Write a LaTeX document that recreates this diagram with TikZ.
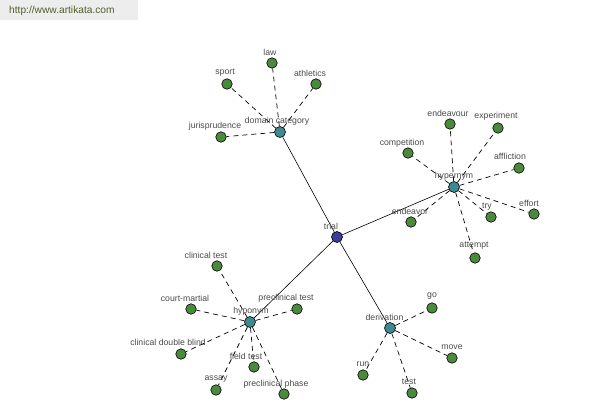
\documentclass[tikz,border=0pt]{standalone}
\usepackage{fontspec}
\setmainfont{Liberation Sans}
\definecolor{leafc}{HTML}{4A8A3C}
\definecolor{hubc}{HTML}{3D8B8E}
\definecolor{rootc}{HTML}{3C3C9A}
\definecolor{txtc}{HTML}{4A4A4A}
\definecolor{bannerbg}{HTML}{EDEDED}
\definecolor{bannertxt}{HTML}{4F5E2A}
\begin{document}
\begin{tikzpicture}[x=1pt,y=-1pt,
  leaf/.style={circle,draw=black,line width=0.6pt,fill=leafc,minimum size=10.5pt,inner sep=0pt},
  hub/.style={circle,draw=black,line width=0.6pt,fill=hubc,minimum size=11pt,inner sep=0pt},
  root/.style={circle,draw=black,line width=0.6pt,fill=rootc,minimum size=11pt,inner sep=0pt},
  lbl/.style={text=txtc,font=\fontsize{8.7}{9}\selectfont,inner sep=0pt},
  spoke/.style={draw=black,line width=0.7pt,dash pattern=on 5pt off 4pt},
  trunk/.style={draw=black,line width=0.6pt}]
\useasboundingbox (0,0) rectangle (600,400);
\fill[bannerbg] (0,0) rectangle (138,20);
\node[text=bannertxt,font=\fontsize{10.2}{11}\selectfont,anchor=west,inner sep=0pt] (banner) at (9,11) {http://www.artikata.com};

% nodes
\node[root] (trial) at (337,237) {};
\node[hub] (dom) at (280,132) {};
\node[hub] (hyper) at (454,187) {};
\node[hub] (hypo) at (250,322) {};
\node[hub] (deriv) at (390,328) {};

\node[leaf] (law) at (272,63) {};
\node[leaf] (sport) at (227,84) {};
\node[leaf] (athletics) at (316,84) {};
\node[leaf] (juris) at (221,137) {};

\node[leaf] (endeavour) at (450,124) {};
\node[leaf] (experiment) at (498,128) {};
\node[leaf] (competition) at (408,153) {};
\node[leaf] (affliction) at (519,168) {};
\node[leaf] (effort) at (534,214) {};
\node[leaf] (try) at (491,217) {};
\node[leaf] (endeavor) at (411,222) {};
\node[leaf] (attempt) at (475,258) {};

\node[leaf] (clintest) at (217,266) {};
\node[leaf] (court) at (191,309) {};
\node[leaf] (pretest) at (297,309) {};
\node[leaf] (cdb) at (181,354) {};
\node[leaf] (field) at (254,367) {};
\node[leaf] (assay) at (216,390) {};
\node[leaf] (prephase) at (284,394) {};

\node[leaf] (go) at (432,308) {};
\node[leaf] (move) at (452,358) {};
\node[leaf] (run) at (363,375) {};
\node[leaf] (test) at (412,393) {};

% connectors
\path[trunk] (trial) -- (dom);
\path[trunk] (trial) -- (hyper);
\path[trunk] (trial) -- (hypo);
\path[trunk] (trial) -- (deriv);
\foreach \l in {law,sport,athletics,juris} \path[spoke] (dom) -- (\l);
\foreach \l in {endeavour,experiment,competition,affliction,effort,try,endeavor,attempt} \path[spoke] (hyper) -- (\l);
\foreach \l in {clintest,court,pretest,cdb,field,assay,prephase} \path[spoke] (hypo) -- (\l);
\foreach \l in {go,move,run,test} \path[spoke] (deriv) -- (\l);

% labels
\node[lbl] (Ltrial) at (331,226) {trial};
\node[lbl] (Ldom) at (277,121) {domain category};
\node[lbl] (Lhyper) at (454,176) {hypernym};
\node[lbl] (Lhypo) at (251,311) {hyponym};
\node[lbl] (Lderiv) at (384.5,317) {derivation};

\node[lbl] (Llaw) at (270,52) {law};
\node[lbl] (Lsport) at (225,73) {sport};
\node[lbl] (Lathletics) at (310,73) {athletics};
\node[lbl] (Ljuris) at (215,126) {jurisprudence};

\node[lbl] (Lendeavour) at (448,113) {endeavour};
\node[lbl] (Lexperiment) at (496,116) {experiment};
\node[lbl] (Lcompetition) at (402,143) {competition};
\node[lbl] (Laffliction) at (510,156) {affliction};
\node[lbl] (Leffort) at (529,203) {effort};
\node[lbl] (Ltry) at (487,207) {try};
\node[lbl] (Lendeavor) at (410,211) {endeavor};
\node[lbl] (Lattempt) at (474,246) {attempt};

\node[lbl] (Lclintest) at (206,255) {clinical test};
\node[lbl] (Lcourt) at (185,298) {court-martial};
\node[lbl] (Lpretest) at (286,298) {preclinical test};
\node[lbl] (Lcdb) at (168,342) {clinical double blind};
\node[lbl] (Lfield) at (246,356) {field test};
\node[lbl] (Lassay) at (216,379) {assay};
\node[lbl] (Lprephase) at (276,384) {preclinical phase};

\node[lbl] (Lgo) at (432,296) {go};
\node[lbl] (Lmove) at (452,347) {move};
\node[lbl] (Lrun) at (363,364) {run};
\node[lbl] (Ltest) at (409,382) {test};
\end{tikzpicture}
\end{document}
